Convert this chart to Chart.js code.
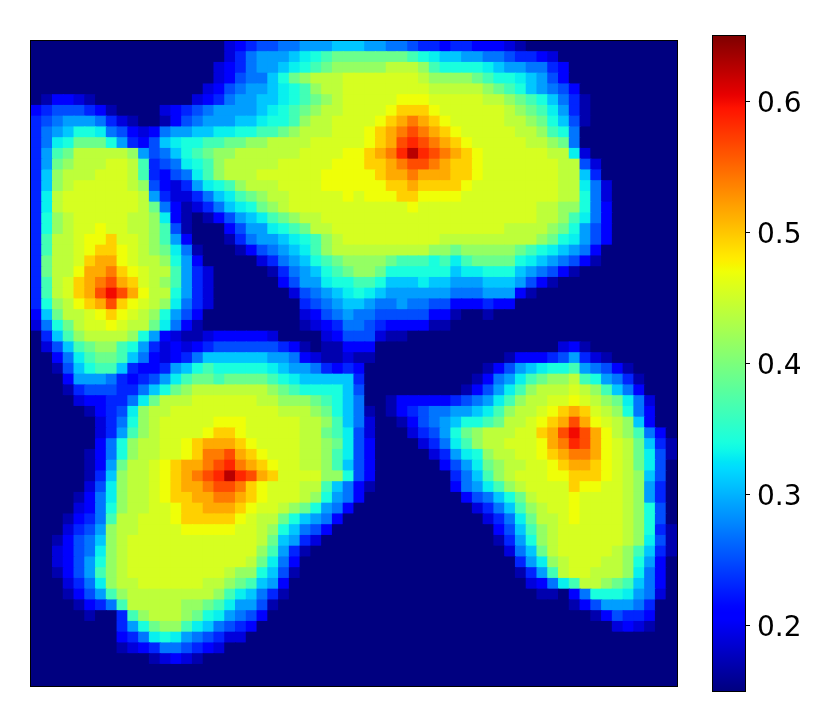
<!DOCTYPE html>
<html>
<head>
<meta charset="utf-8">
<style>
html,body{margin:0;padding:0;background:#fff;width:830px;height:727px;overflow:hidden}
canvas{position:absolute;left:0;top:0}
</style>
<script src="https://cdn.jsdelivr.net/npm/chart.js@4"></script>
</head>
<body>
<canvas id="map" width="830" height="727"></canvas>
<canvas id="bar" width="830" height="727"></canvas>
<script>
// Value of each letter used in the rows below.
const levels = {a:.15,b:.17,c:.19,d:.21,e:.23,f:.25,g:.27,h:.29,i:.31,j:.33,k:.34,l:.365,m:.39,n:.415,o:.44,p:.455,q:.47,r:.495,s:.515,t:.54,u:.565,v:.585,w:.60,x:.61,y:.625,z:.65};
const colorbarRange = [0.15, 0.65];
const colorbarTicks = [0.2, 0.3, 0.4, 0.5, 0.6];
const _ = n => 'a'.repeat(n); // run of background cells
// 60 rows of 60 cells, top row first.
const rows = [
_(18)+"cdeffgghhhii"+"ihhggfeedeedddcb"+_(14),
_(18)+"ceghhhijklmm"+"mmmmmlkjiihhggfeedc"+_(11),
_(17)+"cdeghhijklmnn"+"nnnooonlkkkkjihhgged"+_(10),
_(17)+"cdfggikmnooop"+"pppppponnnnmlkkjihfd"+_(10),
_(16)+"cdfghhijklnoop"+"pppppppooooonmlkihgfd"+_(9),
"abddcb"+_(9)+"cdeghhiijklmnop"+"ppppqqqpppppoonmlkigeb"+_(8),
"defffedb"+_(4)+"cdefghhhhijklmnoop"+"pppqrrrqpppppponmljheb"+_(8),
"efghhhgecb"+_(2)+"bdfghhhiijkklnoopp"+"ppqrstsrqpppppoonmkifb"+_(8),
"eghikkjgfdcdghhiijjkkllmnooopp"+"pqrstutsrqpppppoonlkg"+_(9),
"egjkmmmkhedfijkkllmmnnoooopppp"+"pqrsuvutsrqpppppoonmg"+_(9),
"ehlmooooonhfgiklmnnoooooopppp"+"q"+"qrstvyvutsrqppppppoojc"+_(8),
"ehmnoooppolefgjklnooooopppppqq"+"qrrstuutsrrqpppppppoofc"+_(7),
"einooopppoledfgjlnoooppppppqqq"+"qqrsstsssrrqpppppppooie"+_(7),
"einopppppo"+"nfdcehjklnoooppppqqq"+"qqqrrsrrrrqppppppppoojgc"+_(6),
"ejopppppppoheccegijlmnoopppppq"+"pqqqrrqqqqpppppppppookgc"+_(6),
"ejopppppppomgdbcegijkmnopppppp"+"pppppqpppppppppppoonnkgd"+_(6),
"eknopppppoonjdbabdfhijlmnooppp"+"pppppppppppppppppoonljgd"+_(6),
"eknoppqppoonlfbaaadfhhjklmoopp"+"ppppppppppppppoooonmkhfd"+_(6),
"eloopqqrpponlhdaaabeghhijklnop"+"ppppppppooooooooonmkjhfd"+_(6),
"eloopqrrqponmjgbaaabdfghijlnoo"+"ooooooonnmnnnnnmlkjihgd"+_(7),
"emooprssqp"+"oonkhd"+_(5)+"ceghiklmn"+"nnnmlllkljlmmmmkjihgfdb"+_(7),
"emooqsstrq"+"poolhec"+_(5)+"beghiklm"+"nnmkkkkkkijjkkkihgfdb"+_(9),
"eloprstusr"+"ponlhec"+_(6)+"dfhhjkk"+"llkiiijiihhhiiihfdb"+_(11),
"eloprsuwus"+"qookhec"+_(7)+"cfghij"+"kjihhhhhhggghhhdb"+_(13),
"eknoqrsurq"+"ponjgec"+_(8)+"efghi"+"ihgghggffdddedd"+_(15),
"dimoopqrqp"+"onkhfd"+_(9)+"cdfgh"+"ggfffffddbaab"+_(17),
"cgkmoppqpo"+"omjgdb"+_(9)+"bcdeg"+"gfeddddbb"+_(21),
"aeilnoooon"+"khdcbbcdddddc"+_(4)+"cdf"+"ffcbb"+_(25),
"acfilmnnlk"+"hecdcdeffffffedb"+"a"+"bbd"+"dd"+_(17)+"cdb"+_(8),
"aadgjlmmli"+"gdcdeg"+"iiiiii"+"hhgdcbbc"+"bb"+_(12)+"bdddefhecb"+_(6),
"aabfikllie"+"ddehiklkkkkkjihhgede"+"d"+_(11)+"bdfhijkklhgfdb"+_(4),
"aaadhhhged"+"efhjlmmlmmmmlkjiiiii"+"e"+_(10)+"bdghjlmnnolkhgeb"+_(3),
"aaabefffee"+"gikmnooooooonmlkkkki"+"f"+_(9)+"bdfhjlnoooponligd"+_(3),
"aaaacddeeg"+"jmoooppppppoonnnmlki"+"g"+_(2)+"bdddddefghjlnooppqponmjgc"+_(2),
"aaaaabdefj"+"nooppppppppppooonmki"+"gbab"+"defgghhijlnoopqrsrponkgd"+_(2),
"aaaaaacegk"+"nopppppqqqpppppoonli"+"gcaa"+"bdfghikklmoopqrsusqponid"+_(2),
"aaaaaacehl"+"noppppqrrqpppppoomlj"+"fcaaacefhkmnooopprsuwusqonlgda",
"aaaaaadgkn"+"oopp"+"qrsssrq"+"pppp"+"oonmj"+"fdaaaa"+"cegjlnoopppqstvusqpomieb",
"aaaaabdgkn"+"oopp"+"qrttusrq"+"ppp"+"oonlj"+"fd"+_(5)+"cehjknooppqrsttsqpomjfb",
"aaaaabdhmo"+"opqrsstuvtsrqppoonli"+"fd"+_(6)+"dfhjmnooppqrssrqpomjfa",
"aaaaabeino"+"opqrstuvyvusrppppnnk"+"fd"+_(7)+"egilnopppqqrrrqponifa",
"aaaaacfjno"+"opqrsstuutrqpppoolig"+"db"+_(7)+"dghjlnopppprqqpponhea",
"aaaabdgjno"+"opqrrssttsrqppponkhg"+"d"+_(9)+"dfgikmopppqpppponhea",
"aaaacdgkno"+"oppqrrsssrqpponmkhgd"+_(11)+"cegilnoppqpppponkfa",
"aaabdegloo"+"pppqrrrrrqpoomkihgda"+_(12)+"cegjmoopqpppponkfa",
"aaacefhnoo"+"ppppqqqqqpponkigfdaa"+_(13)+"dfilnopppppponkeb",
"aabdfginop"+"pppppppppppomihecaaa"+_(13)+"behknopppppponjfb",
"aacdfgjnop"+"pppppppppppnlhebaaaa"+_(14)+"cgimopppppponlieb".replace("pppppp","ppppp"),
"aacdfhknop"+"ppppppppppomjgdaaaaa"+_(15)+"ehjnopppoonkhda",
"aabdfhlnop"+"ppppppppo"+"nnkifb"+_(5)+_(15)+"behloppooonjgda",
"aaacegjnoo"+"ppppppoonmlihd"+_(6)+_(16)+"cdgjloonmligda",
"aaabdfhlno"+"ooooooo"+"nljigeb"+_(6)+_(17)+"bbadgkkkjhgca",
"aaaabdeglo"+"oooonnmljhhfb"+_(7)+_(20)+"bdfhhhgeaa",
"aaaaabaael"+"nooonmkjhgfd"+_(8)+_(22)+"bdfeedaa",
"aaaaaaaaeh"+"kmnnljigfed"+_(9)+_(24)+"cdcbaa",
"aaaaaaaade"+"gjkjhgfecc"+_(10)+_(30),
"aaaaaaaabc"+"deggfedc"+_(12)+_(30),
_(11)+"bcdcb"+_(14)+_(30),
_(60),
_(60)
];
const gridSize = 60;
const bad = rows.map((r,i)=>r.length===gridSize?null:i+':'+r.length).filter(Boolean);
if (bad.length || rows.length!==gridSize) throw new Error('bad rows '+rows.length+' '+bad.join(' '));
const cells = [];
rows.forEach((row, r) => {
  row.split('').forEach((ch, c) => {
    cells.push({x: c + 0.5, y: r + 0.5, v: levels[ch]});
  });
});

// Matplotlib "jet" colormap anchor points.
const jetR = [[0,0],[.35,0],[.66,1],[.89,1],[1,.5]];
const jetG = [[0,0],[.125,0],[.375,1],[.64,1],[.91,0],[1,0]];
const jetB = [[0,.5],[.11,1],[.34,1],[.65,0],[1,0]];
function lerp(tbl, t){
  for (let i = 1; i < tbl.length; i++) {
    if (t <= tbl[i][0]) {
      const a = tbl[i-1], b = tbl[i];
      return a[1] + (b[1]-a[1]) * (t-a[0]) / (b[0]-a[0]);
    }
  }
  return tbl[tbl.length-1][1];
}
function jet(t){
  t = Math.max(0, Math.min(1, t));
  return 'rgb(' + [jetR,jetG,jetB].map(k => Math.round(255*lerp(k,t))).join(',') + ')';
}
const norm = v => (v - colorbarRange[0]) / (colorbarRange[1] - colorbarRange[0]);

const frame = {
  id: 'frame',
  afterDatasetsDraw(chart){
    const a = chart.chartArea, g = chart.ctx;
    g.save();
    g.strokeStyle = '#000';
    g.lineWidth = 1;
    g.strokeRect(a.left - .5, a.top - .5, a.right - a.left + 1, a.bottom - a.top + 1);
    g.restore();
  }
};

new Chart(document.getElementById('map'), {
  type: 'scatter',
  data: {datasets: [{
    data: cells,
    pointStyle: 'rect',
    pointRadius: 8.4,
    pointBorderWidth: 0,
    pointBackgroundColor: c => jet(norm(c.raw.v))
  }]},
  plugins: [frame],
  options: {
    responsive: false, animation: false, events: [],
    layout: {autoPadding: false, padding: {left: 31, top: 41, right: 153, bottom: 41}},
    plugins: {legend: {display: false}, tooltip: {enabled: false}},
    scales: {
      x: {display: false, type: 'linear', min: 0, max: gridSize},
      y: {display: false, type: 'linear', min: 0, max: gridSize, reverse: true}
    }
  }
});

new Chart(document.getElementById('bar'), {
  type: 'bar',
  data: {labels: ['value'], datasets: [{
    data: [colorbarRange],
    barPercentage: 1, categoryPercentage: 1,
    backgroundColor(c){
      const a = c.chart.chartArea;
      if (!a) return '#000';
      const g = c.chart.ctx.createLinearGradient(0, a.bottom, 0, a.top);
      for (let i = 0; i <= 100; i++) g.addColorStop(i/100, jet(i/100));
      return g;
    }
  }]},
  plugins: [frame],
  options: {
    responsive: false, animation: false, events: [],
    layout: {autoPadding: false, padding: {left: 713, top: 36, right: 0, bottom: 36}},
    plugins: {legend: {display: false}, tooltip: {enabled: false}},
    scales: {
      x: {display: false},
      y: {
        position: 'right',
        min: colorbarRange[0], max: colorbarRange[1],
        afterBuildTicks(s){ s.ticks = colorbarTicks.map(v => ({value: v})); },
        afterFit(s){ s.width = 85; },
        grid: {display: true, drawOnChartArea: false, drawTicks: true, tickLength: 5, color: '#000', lineWidth: 1},
        border: {display: false},
        ticks: {
          color: '#000', padding: 7, autoSkip: false, maxRotation: 0,
          font: {family: '"DejaVu Sans"', size: 28, lineHeight: '6px'},
          callback: v => ['', Number(v).toFixed(1)]
        }
      }
    }
  }
});
</script>
</body>
</html>
